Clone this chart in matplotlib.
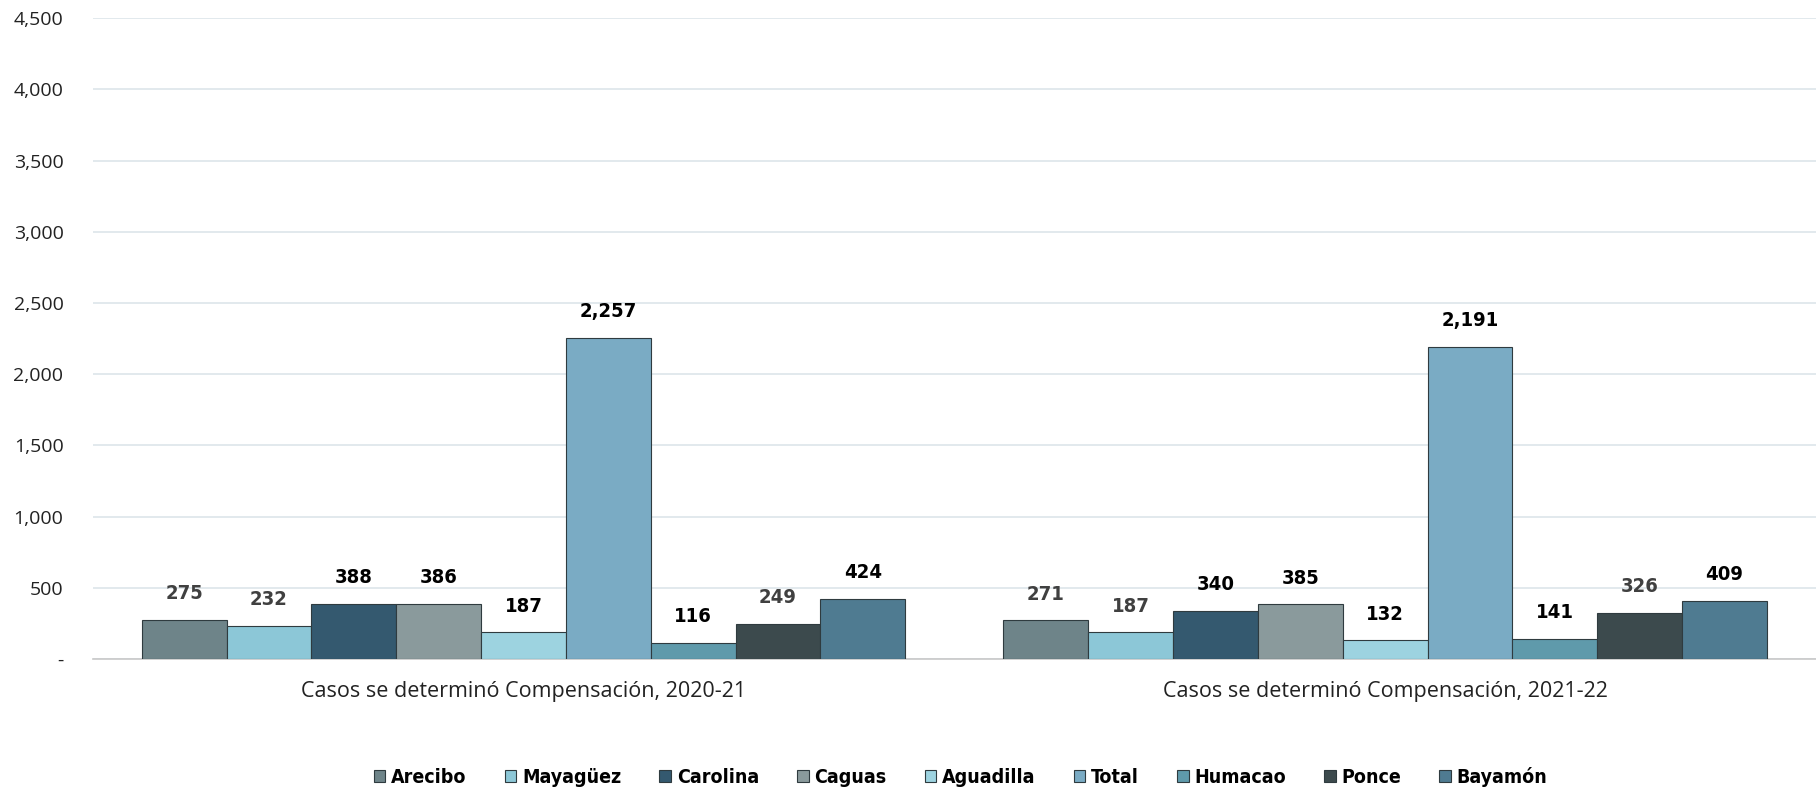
import numpy as np
import matplotlib.pyplot as plt
from matplotlib.ticker import FuncFormatter
from matplotlib import font_manager

categorias = ["Casos se determinó Compensación, 2020-21", "Casos se determinó Compensación, 2021-22"]
regiones = ["Arecibo", "Mayagüez", "Carolina", "Caguas", "Aguadilla", "Total", "Humacao", "Ponce", "Bayamón"]
valores_2020 = [275, 232, 388, 386, 187, 2257, 116, 249, 424]
valores_2021 = [271, 187, 340, 385, 132, 2191, 141, 326, 409]

colores = ["#6e8489", "#8cc7d7", "#34596f", "#8a9a9c", "#9dd3e0", "#7aabc4", "#5f9aab", "#3c4a4d", "#4f7b91"]
color_etiqueta = ["#404040", "#404040", "black", "black", "black", "black", "black", "#404040", "black"]

plt.rcParams['font.family'] = ["Open Sans", "DejaVu Sans"]
fuente_bold = font_manager.FontProperties(family="DejaVu Sans", weight="bold", stretch="condensed", size=14.5)

fig = plt.figure(figsize=(18.16, 7.94), dpi=100)
ax = fig.add_axes([0.051, 0.170, 0.949, 0.807])

x = np.arange(len(categorias))
n = len(regiones)
ancho = 0.886 / n

for i, reg in enumerate(regiones):
    vals = [valores_2020[i], valores_2021[i]]
    pos = x - 0.886 / 2 + ancho * (i + 0.5)
    barras = ax.bar(pos, vals, width=ancho, color=colores[i], edgecolor="#2f3b3f",
                    linewidth=0.8, label=reg, zorder=3)
    for b, v in zip(barras, vals):
        ax.annotate(f"{v:,}", (b.get_x() + b.get_width() / 2, v), xytext=(0, 12),
                    textcoords="offset points", ha="center", va="bottom",
                    fontproperties=fuente_bold, color=color_etiqueta[i])

ax.set_xlim(-0.5, 1.5)
ax.set_ylim(0, 4500)
ax.set_yticks(range(0, 4501, 500))
ax.yaxis.set_major_formatter(FuncFormatter(lambda v, p: "-" if v == 0 else f"{int(v):,}"))
ax.set_xticks(x)
ax.set_xticklabels(categorias, fontsize=15.5, color="#222222")
ax.tick_params(axis="y", labelsize=14, colors="#222222", length=0, pad=21)
ax.tick_params(axis="x", length=0, pad=16)
ax.grid(axis="y", color="#dde5ea", linewidth=1.2, zorder=0)
for s in ["top", "right", "left"]:
    ax.spines[s].set_visible(False)
ax.spines["bottom"].set_color("#c8c8c8")
ax.spines["bottom"].set_linewidth(1.2)

fig.legend(loc="center", bbox_to_anchor=(0.529, 0.022), ncol=n, frameon=False,
           handlelength=0.6, handleheight=0.6, columnspacing=1.95, handletextpad=0.3,
           prop=font_manager.FontProperties(family="DejaVu Sans", weight="bold", stretch="condensed", size=14))

fig.savefig("out.png", dpi=100)
